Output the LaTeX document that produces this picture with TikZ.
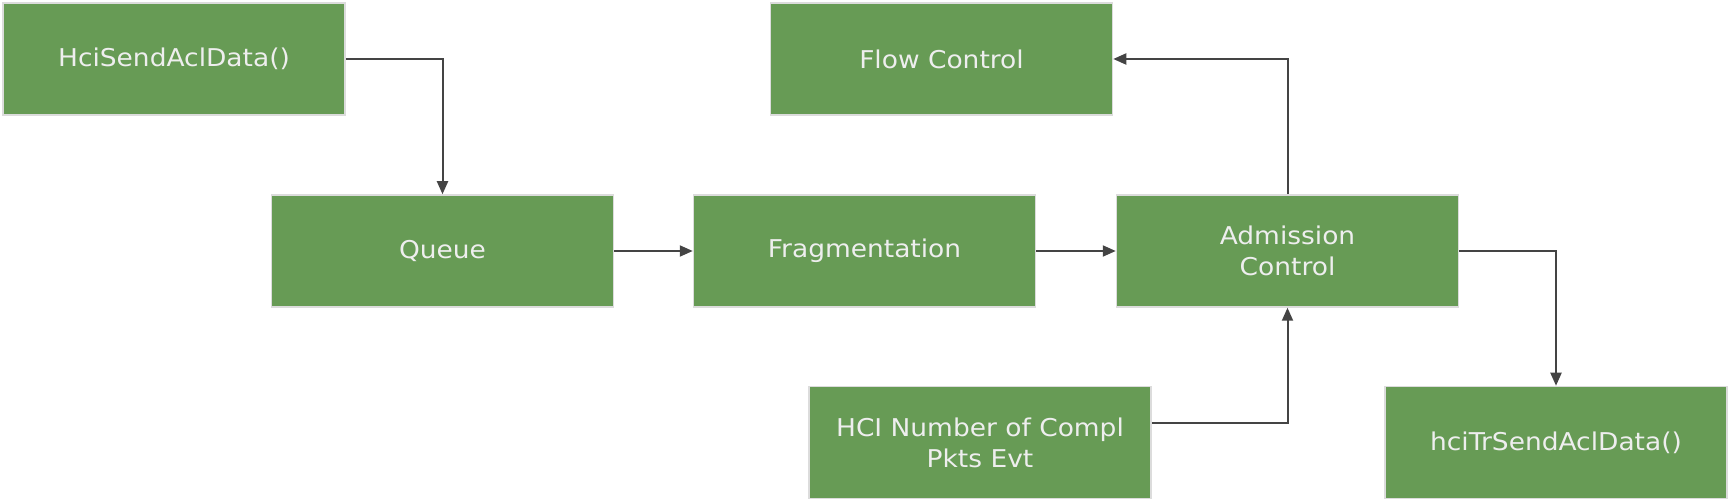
\documentclass[tikz,border=0pt]{standalone}
\usepackage{fontspec}
\setmainfont[FakeStretch=1.08]{DejaVu Sans}
\usetikzlibrary{arrows.meta}
\definecolor{boxgreen}{HTML}{679B55}
\definecolor{boxedge}{HTML}{DCDCDC}
\definecolor{boxtext}{HTML}{EEEEEE}
\definecolor{linegray}{HTML}{444444}
\begin{document}
\begin{tikzpicture}[x=1pt,y=-1pt,
  blk/.style={rectangle, fill=boxgreen, draw=boxedge, line width=1.5pt,
    minimum width=342pt, minimum height=112pt, inner sep=0pt,
    text=boxtext, font=\fontsize{24.5}{31}\selectfont, align=center},
  conn/.style={draw=linegray, line width=2pt,
    -{Triangle[length=13pt,width=11pt]}}]
\useasboundingbox (0,0) rectangle (1730,502);
\node[blk] (send) at (174,59) {HciSendAclData()};
\node[blk] (queue) at (442.5,251) {Queue};
\node[blk] (frag) at (864.5,251) {Fragmentation};
\node[blk] (adm) at (1287.5,251) {Admission\\Control};
\node[blk] (flow) at (941.5,59) {Flow Control};
\node[blk] (hci) at (980,442.5) {HCI Number of Compl\\Pkts Evt};
\node[blk] (tr) at (1556,442.5) {hciTrSendAclData()};
\coordinate (hciout) at ([yshift=19pt]hci.east);
\draw[conn] (send.east) -| (queue.north);
\draw[conn] (queue.east) -- (frag.west);
\draw[conn] (frag.east) -- (adm.west);
\draw[conn] (adm.north) |- (flow.east);
\draw[conn] (hciout) -| (adm.south);
\draw[conn] (adm.east) -| (tr.north);
\end{tikzpicture}
\end{document}
